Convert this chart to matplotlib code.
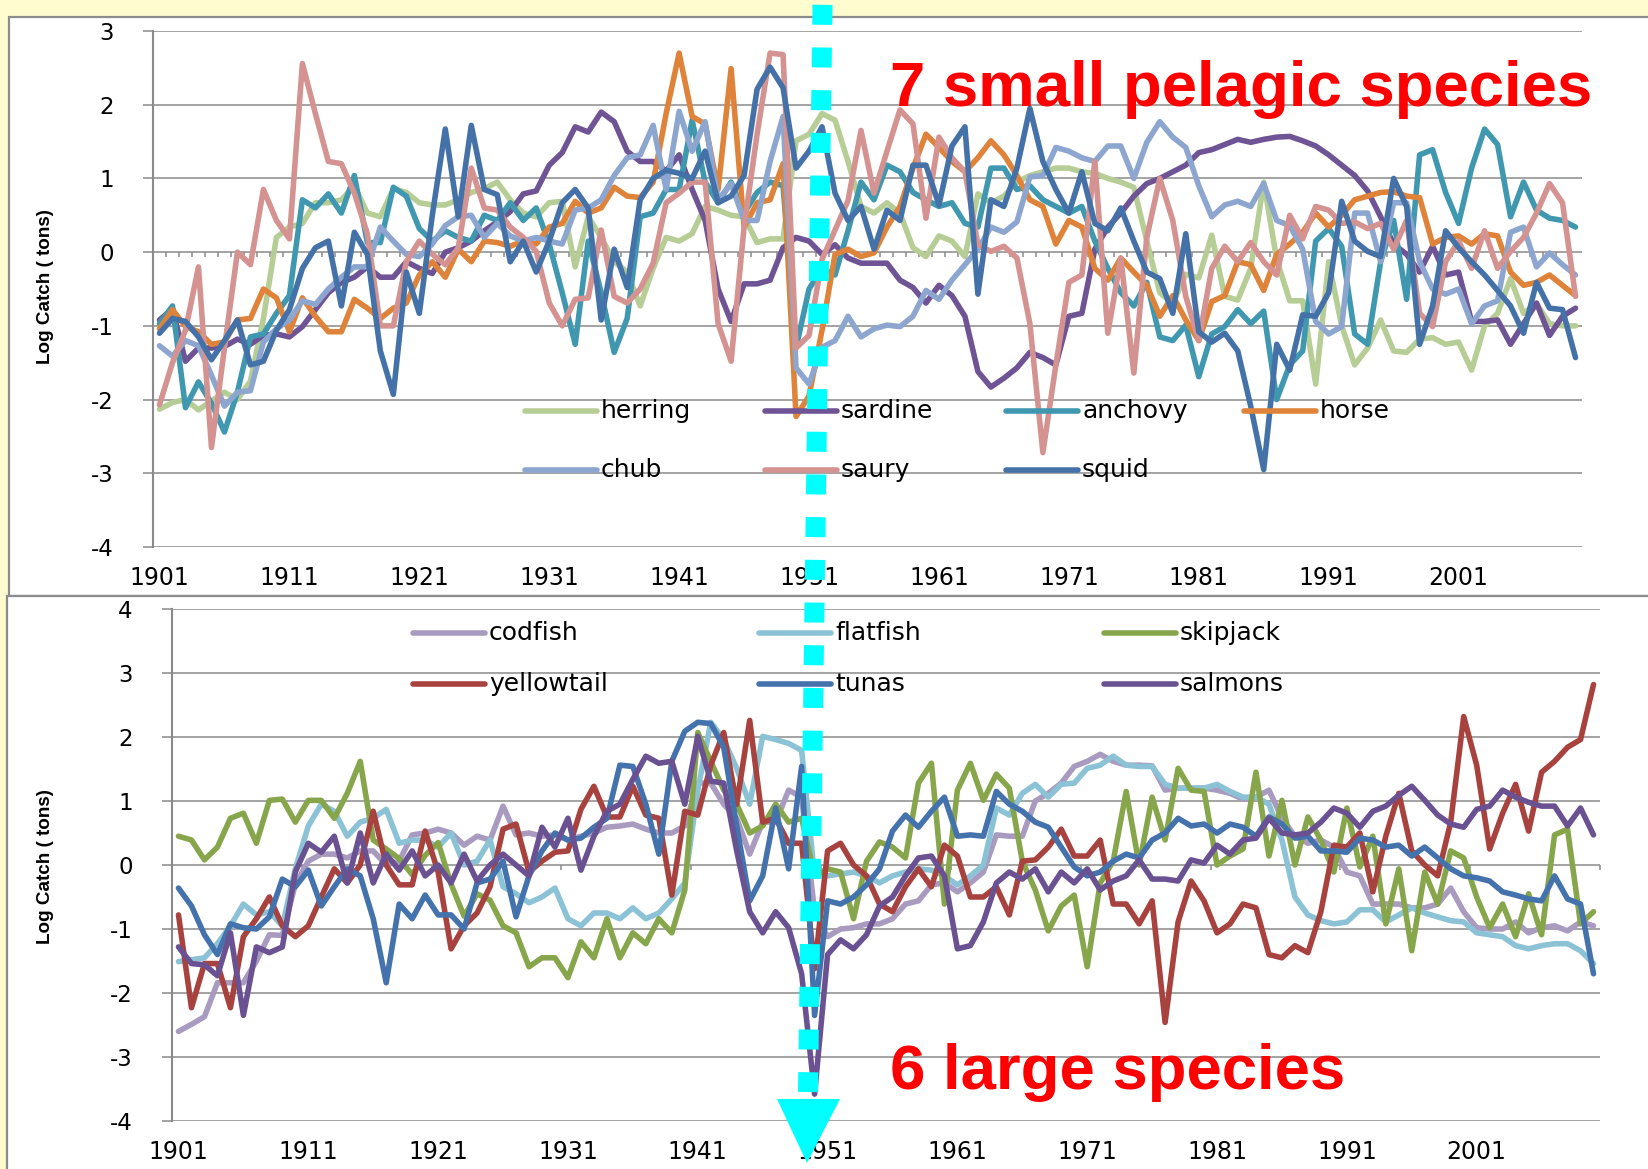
import matplotlib
matplotlib.use("Agg")
import matplotlib.pyplot as plt
from matplotlib.lines import Line2D
from matplotlib.patches import Rectangle, Polygon
from matplotlib.markers import TICKDOWN

plt.rcParams['axes.unicode_minus'] = False
plt.rcParams['font.family'] = ['DejaVu Sans']

years = list(range(1901, 2011))
year_ticks = list(range(1901, 2011, 10))

# ---- small pelagic species (log catch) ----
herring = [-2.13, -2.04, -2.0, -2.14, -2.02, -1.9, -2.0, -1.75, -0.9, 0.2,
           0.34, 0.39, 0.67, 0.67, 0.71, 0.9, 0.53, 0.48, 0.86, 0.81,
           0.67, 0.64, 0.64, 0.71, 0.81, 0.86, 0.95, 0.71, 0.53, 0.48,
           0.67, 0.69, -0.2, 0.48, 0.2, -0.13, -0.27, -0.73, -0.22, 0.2,
           0.15, 0.25, 0.62, 0.57, 0.5, 0.48, 0.13, 0.18, 0.18, 1.51,
           1.6, 1.88, 1.79, 1.23, 0.62, 0.53, 0.67, 0.53, 0.06, -0.06,
           0.22, 0.15, -0.06, 0.79, 0.67, 0.76, 0.95, 1.04, 1.09, 1.14,
           1.14, 1.09, 1.07, 1.0, 0.95, 0.88, 0.15, -0.55, -0.7, -0.3,
           -0.35, 0.23, -0.6, -0.65, -0.22, 0.95, -0.1, -0.66, -0.66, -1.79,
           -0.13, -1.0, -1.53, -1.3, -0.92, -1.34, -1.36, -1.18, -1.16, -1.25,
           -1.22, -1.6, -1.0, -0.83, -0.36, -0.83, -0.7, -0.97, -1.0, -1.0]
sardine = [-0.92, -0.77, -1.48, -1.3, -1.3, -1.28, -1.18, -1.25, -1.13, -1.11,
           -1.15, -1.01, -0.78, -0.55, -0.41, -0.34, -0.2, -0.34, -0.34, -0.13,
           -0.22, -0.29, 0.0, 0.06, 0.15, 0.29, 0.41, 0.55, 0.79, 0.83,
           1.18, 1.35, 1.7, 1.63, 1.9, 1.77, 1.37, 1.23, 1.23, 1.1,
           1.32, 0.85, 0.43, -0.5, -0.94, -0.43, -0.43, -0.38, 0.06, 0.2,
           0.15, -0.03, 0.1, -0.08, -0.15, -0.15, -0.15, -0.38, -0.48, -0.69,
           -0.45, -0.59, -0.87, -1.62, -1.83, -1.71, -1.57, -1.36, -1.43, -1.53,
           -0.87, -0.83, 0.04, 0.34, 0.53, 0.76, 0.93, 1.0, 1.09, 1.18,
           1.35, 1.39, 1.46, 1.53, 1.49, 1.53, 1.56, 1.57, 1.51, 1.44,
           1.32, 1.18, 1.04, 0.83, 0.48, 0.11, -0.03, -0.27, 0.08, -0.31,
           -0.27, -0.94, -0.94, -0.92, -1.25, -0.97, -0.69, -1.13, -0.87, -0.76]
anchovy = [-0.97, -0.73, -2.11, -1.76, -2.05, -2.44, -1.9, -1.15, -1.11, -0.83,
           -0.59, 0.71, 0.6, 0.79, 0.53, 1.04, 0.13, 0.13, 0.88, 0.76,
           0.32, 0.15, 0.29, 0.2, 0.15, 0.5, 0.43, 0.67, 0.43, 0.6,
           0.11, -0.55, -1.25, 0.15, -0.55, -1.36, -0.9, 0.48, 0.53, 0.85,
           0.85, 1.79, 0.95, 0.67, 0.95, 0.53, 0.81, 0.95, 0.9, -1.3,
           -0.5, -0.22, -0.31, 0.29, 0.95, 0.71, 1.18, 1.09, 0.81, 0.71,
           0.62, 0.67, 0.39, 0.34, 1.14, 1.14, 0.85, 0.9, 0.71, 0.62,
           0.53, 0.62, 0.15, -0.22, -0.55, -0.73, -0.41, -1.15, -1.2, -0.99,
           -1.69, -1.11, -1.01, -0.78, -0.97, -0.8, -2.0, -1.53, -1.34, 0.15,
           0.32, 0.08, -1.11, -1.25, -0.13, 0.43, -0.64, 1.32, 1.39, 0.81,
           0.39, 1.14, 1.67, 1.46, 0.48, 0.95, 0.57, 0.46, 0.43, 0.34]
horse = [-1.04, -0.78, -1.01, -1.08, -1.25, -1.22, -0.92, -0.9, -0.5, -0.62,
         -1.08, -0.62, -0.87, -1.08, -1.08, -0.64, -0.76, -0.9, -0.76, -0.69,
         -0.31, -0.13, -0.34, 0.04, -0.13, 0.15, 0.13, 0.08, 0.15, 0.11,
         0.34, 0.39, 0.69, 0.53, 0.6, 0.88, 0.76, 0.74, 0.95, 1.88,
         2.7, 1.84, 1.74, 0.85, 2.49, 0.34, 0.67, 0.71, 1.2, -2.23,
         -1.95, -1.06, -0.03, 0.04, -0.06, -0.01, 0.34, 0.62, 1.14, 1.6,
         1.42, 1.23, 1.09, 1.28, 1.51, 1.32, 1.04, 0.71, 0.62, 0.11,
         0.43, 0.34, -0.22, -0.38, -0.08, -0.27, -0.45, -0.87, -0.59, -0.92,
         -1.2, -0.67, -0.59, -0.13, -0.17, -0.52, -0.03, 0.11, 0.27, 0.53,
         0.34, 0.5, 0.71, 0.76, 0.81, 0.82, 0.76, 0.74, 0.11, 0.2,
         0.22, 0.11, 0.25, 0.22, -0.27, -0.45, -0.41, -0.31, -0.45, -0.59]
chub = [-1.27, -1.41, -1.2, -1.27, -1.67, -2.09, -1.9, -1.88, -1.22, -1.04,
        -0.92, -0.66, -0.71, -0.5, -0.34, -0.2, -0.2, 0.34, 0.15, -0.03,
        -0.06, 0.11, 0.36, 0.48, 0.5, 0.2, 0.39, 0.22, 0.15, 0.2,
        0.15, 0.11, 0.57, 0.6, 0.71, 1.04, 1.28, 1.32, 1.72, 0.85,
        1.91, 1.37, 1.77, 0.71, 0.93, 0.43, 0.43, 1.23, 1.84, -1.57,
        -1.79, -1.29, -1.2, -0.87, -1.15, -1.04, -0.99, -1.01, -0.87, -0.52,
        -0.64, -0.38, -0.17, 0.04, 0.34, 0.27, 0.41, 1.02, 1.04, 1.42,
        1.37, 1.28, 1.23, 1.44, 1.44, 1.0, 1.49, 1.77, 1.56, 1.42,
        0.9, 0.48, 0.64, 0.69, 0.62, 0.93, 0.43, 0.36, 0.04, -0.94,
        -1.11, -1.01, 0.53, 0.53, -0.13, 0.67, 0.67, -0.13, -0.5, -0.57,
        -0.5, -0.97, -0.73, -0.66, 0.27, 0.34, -0.2, -0.01, -0.17, -0.31]
saury = [-2.07, -1.5, -1.06, -0.2, -2.65, -1.3, 0.0, -0.17, 0.85, 0.43,
         0.18, 2.56, 1.88, 1.23, 1.2, 0.8, 0.25, -1.0, -1.0, -0.13,
         0.15, -0.03, -0.17, 0.06, 1.14, 0.6, 0.57, 0.34, 0.2, 0.01,
         -0.69, -1.0, -0.64, -0.62, 0.3, -0.6, -0.69, -0.5, -0.15, 0.67,
         0.8, 0.95, 0.95, -0.97, -1.48, 0.34, 1.6, 2.7, 2.68, -1.3,
         -1.13, -0.1, 0.3, 0.7, 1.65, 0.8, 1.37, 1.93, 1.74, 0.46,
         1.56, 1.28, 1.09, 0.1, 0.01, 0.08, -0.08, -0.97, -2.72, -1.53,
         -0.41, -0.31, 1.23, -1.1, -0.08, -1.64, 0.2, 1.0, 0.43, -0.6,
         -1.2, -0.22, 0.08, -0.13, 0.13, -0.13, -0.31, 0.5, 0.18, 0.62,
         0.57, 0.39, 0.41, 0.32, 0.39, 0.04, 0.43, -0.83, -1.01, -0.13,
         0.15, -0.22, 0.29, -0.22, 0.01, 0.2, 0.53, 0.93, 0.67, -0.6]
squid = [-1.1, -0.9, -0.94, -1.15, -1.46, -1.2, -0.92, -1.53, -1.48, -1.06,
         -0.78, -0.22, 0.06, 0.15, -0.73, 0.27, -0.03, -1.34, -1.93, -0.27,
         -0.83, 0.5, 1.67, 0.48, 1.72, 0.85, 0.78, -0.13, 0.15, -0.27,
         0.15, 0.67, 0.85, 0.6, -0.92, 0.04, -0.48, 0.71, 1.0, 1.11,
         1.07, 1.0, 1.37, 0.67, 0.76, 1.04, 2.21, 2.51, 2.23, 1.14,
         1.37, 1.7, 0.8, 0.43, 0.62, 0.04, 0.57, 0.43, 1.18, 1.18,
         0.64, 1.44, 1.7, -0.57, 0.71, 0.62, 1.14, 1.95, 1.23, 0.85,
         0.53, 1.09, 0.39, 0.29, 0.6, 0.15, -0.27, -0.36, -0.83, 0.25,
         -1.08, -1.22, -1.1, -1.34, -2.09, -2.95, -1.25, -1.6, -0.85, -0.87,
         -0.55, 0.69, 0.15, 0.01, -0.06, 1.0, 0.62, -1.25, -0.73, 0.29,
         0.06, -0.13, -0.31, -0.52, -0.73, -1.1, -0.41, -0.76, -0.78, -1.43]

# ---- large species (log catch) ----
codfish = [-2.6, -2.49, -2.37, -1.84, -1.84, -1.84, -1.5, -1.09, -1.1, -0.3,
           0.06, 0.17, 0.17, 0.11, 0.22, 0.22, 0.0, 0.06, 0.47, 0.5,
           0.56, 0.5, 0.31, 0.45, 0.39, 0.92, 0.47, 0.5, 0.45, 0.47,
           0.39, 0.45, 0.5, 0.59, 0.61, 0.64, 0.56, 0.5, 0.5, 0.61,
           1.28, 1.28, 0.95, 0.73, 0.17, 0.67, 0.67, 1.17, 1.06, -0.73,
           -1.12, -1.0, -0.98, -0.92, -0.92, -0.84, -0.61, -0.56, -0.31, -0.28,
           -0.42, -0.28, -0.11, 0.47, 0.45, 0.45, 1.0, 1.12, 1.28, 1.54,
           1.62, 1.73, 1.62, 1.56, 1.56, 1.55, 1.17, 1.2, 1.2, 1.2,
           1.17, 1.12, 1.03, 1.06, 1.17, 0.73, 0.45, 0.34, 0.39, 0.28,
           -0.11, -0.17, -0.61, -0.61, -0.61, -0.67, -0.67, -0.61, -0.36, -0.73,
           -0.98, -1.0, -1.0, -0.89, -1.06, -0.98, -0.95, -1.03, -0.89, -0.95]
flatfish = [-1.51, -1.48, -1.45, -1.23, -0.95, -0.61, -0.78, -0.73, -0.95, -0.06,
            0.61, 0.95, 0.84, 0.45, 0.67, 0.73, 0.87, 0.34, 0.39, 0.39,
            0.28, 0.5, 0.0, 0.06, 0.39, -0.34, -0.45, -0.59, -0.5, -0.36,
            -0.84, -0.95, -0.75, -0.75, -0.84, -0.67, -0.84, -0.75, -0.53, -0.28,
            1.17, 2.23, 1.96, 1.51, 0.95, 2.01, 1.96, 1.9, 1.79, -0.17,
            -0.17, -0.14, -0.11, -0.17, -0.28, -0.17, -0.11, -0.06, -0.08, -0.17,
            -0.31, -0.17, 0.0, 0.89, 0.78, 1.12, 1.26, 1.06, 1.26, 1.28,
            1.51, 1.56, 1.7, 1.56, 1.54, 1.54, 1.26, 1.2, 1.2, 1.2,
            1.26, 1.15, 1.06, 1.06, 0.95, 0.39, -0.5, -0.78, -0.87, -0.92,
            -0.89, -0.7, -0.7, -0.89, -0.78, -0.67, -0.75, -0.81, -0.87, -0.89,
            -1.06, -1.09, -1.12, -1.26, -1.31, -1.26, -1.23, -1.23, -1.34, -1.54]
skipjack = [0.45, 0.39, 0.08, 0.28, 0.73, 0.81, 0.34, 1.01, 1.03, 0.67,
            1.01, 1.01, 0.73, 1.12, 1.62, 0.39, 0.25, 0.1, -0.15, 0.15,
            0.35, -0.3, -0.8, -0.45, -0.55, -0.95, -1.06, -1.59, -1.45, -1.45,
            -1.76, -1.2, -1.45, -0.84, -1.45, -1.06, -1.23, -0.84, -1.06, -0.39,
            2.07, 1.62, 1.17, 0.95, 0.5, 0.61, 0.95, 0.67, 0.73, -0.17,
            -0.06, -0.11, -0.84, 0.06, 0.36, 0.28, 0.11, 1.28, 1.59, -0.61,
            1.17, 1.59, 1.01, 1.42, 1.2, 0.06, -0.39, -1.03, -0.64, -0.47,
            -1.59, -0.28, 0.06, 1.15, 0.0, 1.06, 0.39, 1.51, 1.17, 1.15,
            0.0, 0.14, 0.25, 1.45, 0.14, 1.01, 0.0, 0.75, 0.39, -0.11,
            0.89, -0.03, 0.45, -0.92, -0.06, -1.34, -0.11, -0.61, 0.22, 0.11,
            -0.5, -0.98, -0.61, -1.12, -0.45, -1.09, 0.47, 0.56, -0.92, -0.73]
yellowtail = [-0.78, -2.23, -1.54, -1.54, -2.23, -1.12, -0.84, -0.5, -0.95, -1.12,
              -0.95, -0.5, -0.06, -0.28, 0.0, 0.84, 0.0, -0.31, -0.31, 0.53,
              -0.11, -1.31, -0.95, -0.75, -0.34, 0.56, 0.64, -0.11, 0.06, 0.2,
              0.22, 0.87, 1.23, 0.75, 0.75, 1.23, 0.78, 0.73, -0.47, 0.84,
              0.78, 1.56, 2.07, 0.95, 2.26, 0.67, 0.73, 0.34, 0.34, -1.62,
              0.22, 0.34, 0.0, -0.17, -0.61, -0.73, -0.34, -0.06, -0.34, 0.31,
              0.14, -0.5, -0.5, -0.34, -0.78, 0.06, 0.08, 0.28, 0.56, 0.14,
              0.14, 0.39, -0.61, -0.61, -0.92, -0.56, -2.46, -0.89, -0.25, -0.56,
              -1.06, -0.92, -0.61, -0.67, -1.4, -1.45, -1.26, -1.37, -0.73, 0.31,
              0.28, 0.5, -0.42, 0.45, 1.12, 0.22, 0.0, -0.17, 0.67, 2.32,
              1.56, 0.25, 0.81, 1.26, 0.53, 1.45, 1.62, 1.84, 1.96, 2.82]
tunas = [-0.36, -0.64, -1.09, -1.4, -0.92, -0.98, -1.0, -0.81, -0.22, -0.34,
         -0.08, -0.64, -0.34, -0.06, -0.17, -0.84, -1.84, -0.61, -0.84, -0.47,
         -0.78, -0.78, -1.0, -0.28, -0.22, 0.06, -0.81, -0.17, 0.22, 0.5,
         0.39, 0.42, 0.59, 0.73, 1.56, 1.54, 0.95, 0.17, 1.62, 2.09,
         2.23, 2.21, 1.84, 0.61, -0.56, -0.17, 0.89, -0.06, 1.54, -2.35,
         -0.56, -0.61, -0.5, -0.31, -0.06, 0.53, 0.78, 0.59, 0.84, 1.06,
         0.45, 0.47, 0.45, 1.15, 0.95, 0.84, 0.67, 0.59, 0.28, -0.03,
         -0.17, -0.11, 0.06, 0.17, 0.11, 0.39, 0.5, 0.73, 0.61, 0.64,
         0.5, 0.64, 0.59, 0.45, 0.75, 0.64, 0.42, 0.45, 0.22, 0.22,
         0.2, 0.42, 0.39, 0.28, 0.31, 0.14, 0.28, 0.11, -0.06, -0.17,
         -0.2, -0.25, -0.42, -0.47, -0.53, -0.56, -0.17, -0.53, -0.61, -1.7]
salmons = [-1.28, -1.54, -1.56, -1.73, -1.06, -2.35, -1.28, -1.37, -1.28, -0.11,
           0.34, 0.2, 0.45, -0.28, 0.5, -0.28, 0.17, -0.08, 0.22, -0.17,
           0.0, -0.28, 0.17, -0.25, 0.0, 0.17, 0.0, -0.17, 0.59, 0.28,
           0.73, -0.08, 0.45, 0.84, 0.95, 1.34, 1.7, 1.59, 1.62, 0.95,
           2.01, 1.31, 1.28, 0.22, -0.73, -1.06, -0.73, -0.98, -1.7, -3.58,
           -1.4, -1.17, -1.31, -1.09, -0.64, -0.5, -0.17, 0.11, 0.14, -0.17,
           -1.31, -1.26, -0.89, -0.28, -0.11, -0.22, -0.06, -0.42, -0.11, -0.28,
           -0.06, -0.39, -0.25, -0.17, 0.08, -0.22, -0.22, -0.25, 0.08, 0.03,
           0.31, 0.17, 0.39, 0.42, 0.73, 0.5, 0.47, 0.5, 0.67, 0.89,
           0.81, 0.59, 0.84, 0.92, 1.09, 1.23, 1.01, 0.78, 0.64, 0.59,
           0.87, 0.92, 1.17, 1.06, 0.98, 0.92, 0.92, 0.61, 0.89, 0.47]

top_names = ['herring', 'sardine', 'anchovy', 'horse', 'chub', 'saury', 'squid']
top_values = [herring, sardine, anchovy, horse, chub, saury, squid]
top_colors = ['#B7CD96', '#6E5494', '#3F98AF', '#DE8339', '#8DA6CF', '#D49291', '#4472A8']

bottom_names = ['codfish', 'flatfish', 'skipjack', 'yellowtail', 'tunas', 'salmons']
bottom_values = [codfish, flatfish, skipjack, yellowtail, tunas, salmons]
bottom_colors = ['#A99AC0', '#8BC2D5', '#87A64B', '#A8423F', '#4472AC', '#6A5192']

W, H = 1648, 1169
GRID = '#8A8A8A'
LW = 4.0


def fx(px):
    return px / W


def fy(py):
    return 1 - py / H


fig = plt.figure(figsize=(W / 100, H / 100), dpi=100, facecolor='#FFFCCF')

# white chart panels
fig.add_artist(Rectangle((fx(9), fy(596)), 1.0, fy(17) - fy(596), transform=fig.transFigure,
                         facecolor='white', edgecolor='#8C8C8C', lw=1.6, zorder=-5))
fig.add_artist(Rectangle((fx(7), fy(1180)), 1.0, fy(596) - fy(1180), transform=fig.transFigure,
                         facecolor='white', edgecolor='#8C8C8C', lw=1.6, zorder=-5))

ax1 = fig.add_axes([fx(153), fy(547), fx(1582) - fx(153), fy(31) - fy(547)])
ax2 = fig.add_axes([fx(172), fy(1121), fx(1600) - fx(172), fy(609) - fy(1121)])


def style_axes(ax, ymin, ymax, cat_ticks):
    ax.set_facecolor('white')
    ax.set_xlim(1900.5, 2010.5)
    ax.set_ylim(ymin, ymax)
    ax.set_yticks(range(ymin, ymax + 1))
    ax.set_xticks(year_ticks)
    ax.grid(axis='y', color=GRID, lw=1.1)
    ax.grid(axis='x', visible=False)
    ax.set_axisbelow(True)
    for side in ['top', 'right', 'bottom']:
        ax.spines[side].set_visible(False)
    ax.spines['left'].set_color(GRID)
    ax.spines['left'].set_linewidth(1.5)
    ax.tick_params(axis='y', direction='out', length=7.2, width=1.1, color=GRID,
                   pad=21, labelsize=16.5)
    ax.tick_params(axis='x', length=0, pad=14, labelsize=17)
    # category tick marks hanging from the zero line
    ax.plot(cat_ticks, [0] * len(cat_ticks), ls='none', marker=TICKDOWN, ms=3.6,
            mew=1.1, color=GRID, zorder=1.5, clip_on=False)


style_axes(ax1, -4, 3, [y + 0.5 for y in range(1901, 2010)])
style_axes(ax2, -4, 4, [y + 0.5 for y in range(1900, 2011, 10)])

for vals, col in zip(top_values, top_colors):
    ax1.plot(years, vals, color=col, lw=LW, solid_joinstyle='round', solid_capstyle='round')
for vals, col in zip(bottom_values, bottom_colors):
    ax2.plot(years, vals, color=col, lw=LW, solid_joinstyle='round', solid_capstyle='round')


# legends laid out in rows, as in the spreadsheet chart
def legend_rows(names, colors, col_x, row_y):
    ncol = len(col_x)
    for i, (name, col) in enumerate(zip(names, colors)):
        x0 = col_x[i % ncol]
        y0 = row_y[i // ncol]
        fig.add_artist(Line2D([fx(x0), fx(x0 + 72)], [fy(y0), fy(y0)], transform=fig.transFigure,
                              color=col, lw=LW, solid_capstyle='round', zorder=3))
        fig.text(fx(x0 + 76), fy(y0 + 7), name, fontsize=18, ha='left', va='baseline',
                 color='black', zorder=3)


legend_rows(top_names, top_colors, [525, 765, 1006, 1244], [411, 470])
legend_rows(bottom_names, bottom_colors, [413, 759, 1104], [633, 684])

# axis titles
for yc in (286, 866):
    fig.text(fx(46), fy(yc), 'Log Catch ( tons)', rotation=90, ha='center', va='center',
             fontsize=13.6, fontweight='bold',
             family=['Liberation Sans Narrow', 'Liberation Sans'])

# headings
fig.text(fx(890), fy(106), '7 small pelagic species', color='#FF0000', fontsize=45.7,
         fontweight='bold', family='Liberation Sans', ha='left', va='baseline', zorder=9)
fig.text(fx(890), fy(1089), '6 large species', color='#FF0000', fontsize=45.7,
         fontweight='bold', family='Liberation Sans', ha='left', va='baseline', zorder=9)

# dotted cyan arrow marking 1950
fig.add_artist(Line2D([fx(822.5), fx(808)], [fy(4.8), fy(1092)], transform=fig.transFigure,
                      color='#00FFFF', lw=14.4, dashes=(1, 1.135), dash_capstyle='butt',
                      zorder=10))
fig.add_artist(Polygon([(fx(777), fy(1099)), (fx(840), fy(1099)), (fx(807), fy(1163))],
                       closed=True, transform=fig.transFigure, facecolor='#00FFFF',
                       edgecolor='none', zorder=10))

fig.savefig('out.png', dpi=100, facecolor=fig.get_facecolor())
